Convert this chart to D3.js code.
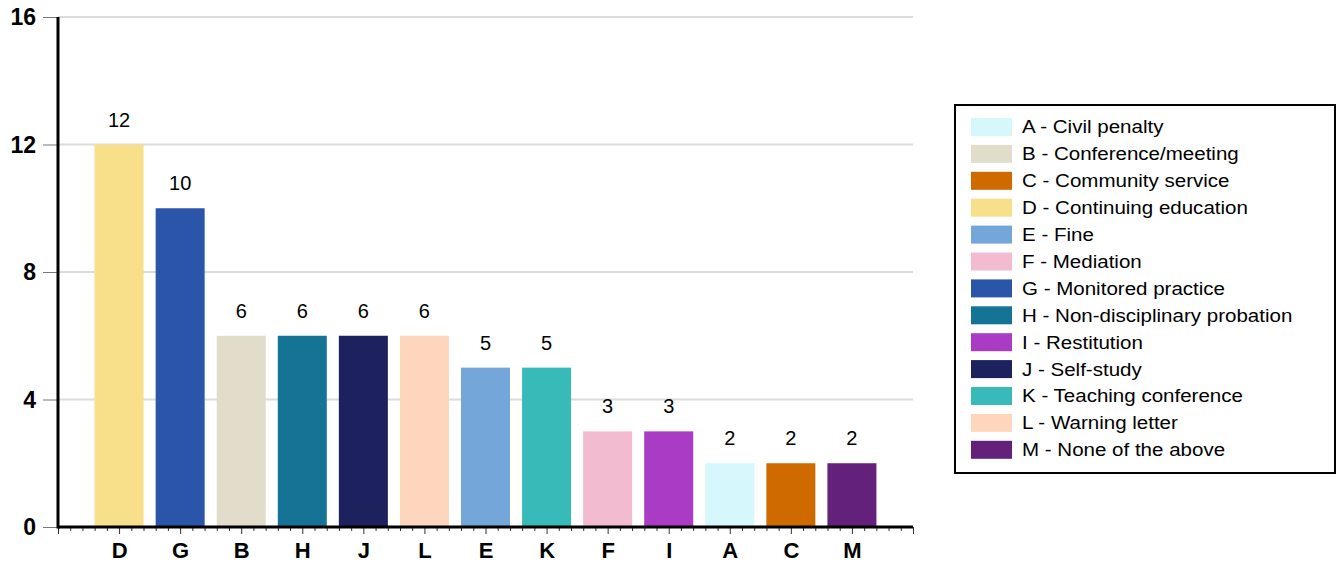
<!DOCTYPE html>
<html>
<head>
<meta charset="utf-8">
<script src="https://cdn.jsdelivr.net/npm/d3@7"></script>
<style>
  html, body { margin: 0; padding: 0; background: #fff; }
  svg { display: block; font-family: Arial, "Liberation Sans", sans-serif; }
</style>
</head>
<body>
<svg id="chart" width="1337" height="567"></svg>
<script>
// Bar order (sorted by count) and counts
const categories = ["D", "G", "B", "H", "J", "L", "E", "K", "F", "I", "A", "C", "M"];
const counts     = [12, 10, 6, 6, 6, 6, 5, 5, 3, 3, 2, 2, 2];

// Legend entries, alphabetical
const legendKeys   = ["A", "B", "C", "D", "E", "F", "G", "H", "I", "J", "K", "L", "M"];
const legendLabels = [
  "A - Civil penalty",
  "B - Conference/meeting",
  "C - Community service",
  "D - Continuing education",
  "E - Fine",
  "F - Mediation",
  "G - Monitored practice",
  "H - Non-disciplinary probation",
  "I - Restitution",
  "J - Self-study",
  "K - Teaching conference",
  "L - Warning letter",
  "M - None of the above"
];
const legendColors = [
  "#d6f7fb", "#e2dccb", "#cf6a00", "#f8df8a", "#75a6da", "#f2bbd0", "#2b55a8",
  "#157496", "#a93bc4", "#1d215e", "#38bbb8", "#fed5bd", "#64217c"
];

const yTicks = [0, 4, 8, 12, 16];

const FONT = "Arial, 'Liberation Sans', sans-serif";
const svg = d3.select("#chart");
const plotLeft = 58, plotRight = 913, plotTop = 17, plotBottom = 527;

const color = d3.scaleOrdinal().domain(legendKeys).range(legendColors);

// Bars sit at integer positions 1..13 on a 0..14 axis
const x = d3.scaleLinear().domain([0, categories.length + 1]).range([plotLeft, plotRight]);
const y = d3.scaleLinear().domain([0, 16]).range([plotBottom, plotTop]);
const barW = 49;

// Gridlines
svg.append("g")
  .selectAll("line")
  .data(yTicks.filter(d => d > 0))
  .join("line")
  .attr("x1", plotLeft).attr("x2", plotRight)
  .attr("y1", d => y(d)).attr("y2", d => y(d))
  .attr("stroke", "#dcdcdc").attr("stroke-width", 2);

// Y axis
const yAxis = svg.append("g")
  .attr("transform", `translate(${plotLeft},0)`)
  .call(d3.axisLeft(y).tickValues(yTicks).tickSize(15).tickPadding(7));
yAxis.select(".domain").remove();
yAxis.selectAll(".tick line").attr("stroke", "#777").attr("stroke-width", 1);
yAxis.selectAll(".tick text")
  .attr("font-size", 23).attr("font-weight", "bold").attr("fill", "#000")
  .attr("dy", "0.34em")
  .attr("font-family", FONT);

// Bars
const data = categories.map((c, i) => ({ key: c, value: counts[i], pos: i + 1 }));
svg.append("g")
  .selectAll("rect")
  .data(data)
  .join("rect")
  .attr("x", d => x(d.pos) - barW / 2)
  .attr("width", barW)
  .attr("y", d => y(d.value))
  .attr("height", d => y(0) - y(d.value))
  .attr("fill", d => color(d.key));

// Value labels
svg.append("g")
  .selectAll("text")
  .data(data)
  .join("text")
  .attr("x", d => x(d.pos))
  .attr("y", d => y(d.value) - 18)
  .attr("text-anchor", "middle")
  .attr("font-size", 20)
  .attr("fill", "#000")
  .text(d => d.value);

// X axis: minor ticks every 0.2, major ticks at each integer
const minorTicks = d3.range(0, 70).map(i => i / 5).filter((v, i) => i % 5 !== 0);
const xg = svg.append("g").attr("transform", `translate(0,${plotBottom})`);
xg.append("g")
  .call(d3.axisBottom(x).tickValues(minorTicks).tickSize(4).tickFormat(""))
  .call(g => g.select(".domain").remove())
  .call(g => g.selectAll(".tick line").attr("stroke", "#333").attr("stroke-width", 1));
xg.append("g")
  .call(d3.axisBottom(x).tickValues(d3.range(0, 15)).tickSize(7)
    .tickFormat(v => (v >= 1 && v <= categories.length) ? categories[v - 1] : ""))
  .call(g => g.select(".domain").remove())
  .call(g => g.selectAll(".tick line").attr("stroke", "#333").attr("stroke-width", 1))
  .call(g => g.selectAll(".tick text")
    .attr("font-size", 22).attr("font-weight", "bold").attr("fill", "#000")
    .attr("dy", 0).attr("y", 31)
    .attr("font-family", FONT));

// Axis lines
svg.append("line")
  .attr("x1", plotLeft).attr("x2", plotRight).attr("y1", plotBottom).attr("y2", plotBottom)
  .attr("stroke", "#000").attr("stroke-width", 3);
svg.append("line")
  .attr("x1", plotLeft).attr("x2", plotLeft).attr("y1", plotTop).attr("y2", plotBottom + 1.5)
  .attr("stroke", "#000").attr("stroke-width", 3);

// Legend
const lg = svg.append("g");
lg.append("rect")
  .attr("x", 955).attr("y", 105).attr("width", 380).attr("height", 368)
  .attr("fill", "#fff").attr("stroke", "#000").attr("stroke-width", 2);
const rows = lg.selectAll("g.row")
  .data(legendKeys.map((k, i) => ({ key: k, label: legendLabels[i], i })))
  .join("g")
  .attr("transform", d => `translate(971,${127 + d.i * 26.9})`);
rows.append("rect")
  .attr("x", 0).attr("y", -9).attr("width", 41).attr("height", 18)
  .attr("fill", d => color(d.key));
rows.append("g")
  .attr("transform", "translate(51,0) scale(1.11,1)")
  .append("text")
  .attr("x", 0).attr("y", 0).attr("dy", "0.35em")
  .attr("font-size", 18.5).attr("fill", "#000")
  .text(d => d.label);
</script>
</body>
</html>
